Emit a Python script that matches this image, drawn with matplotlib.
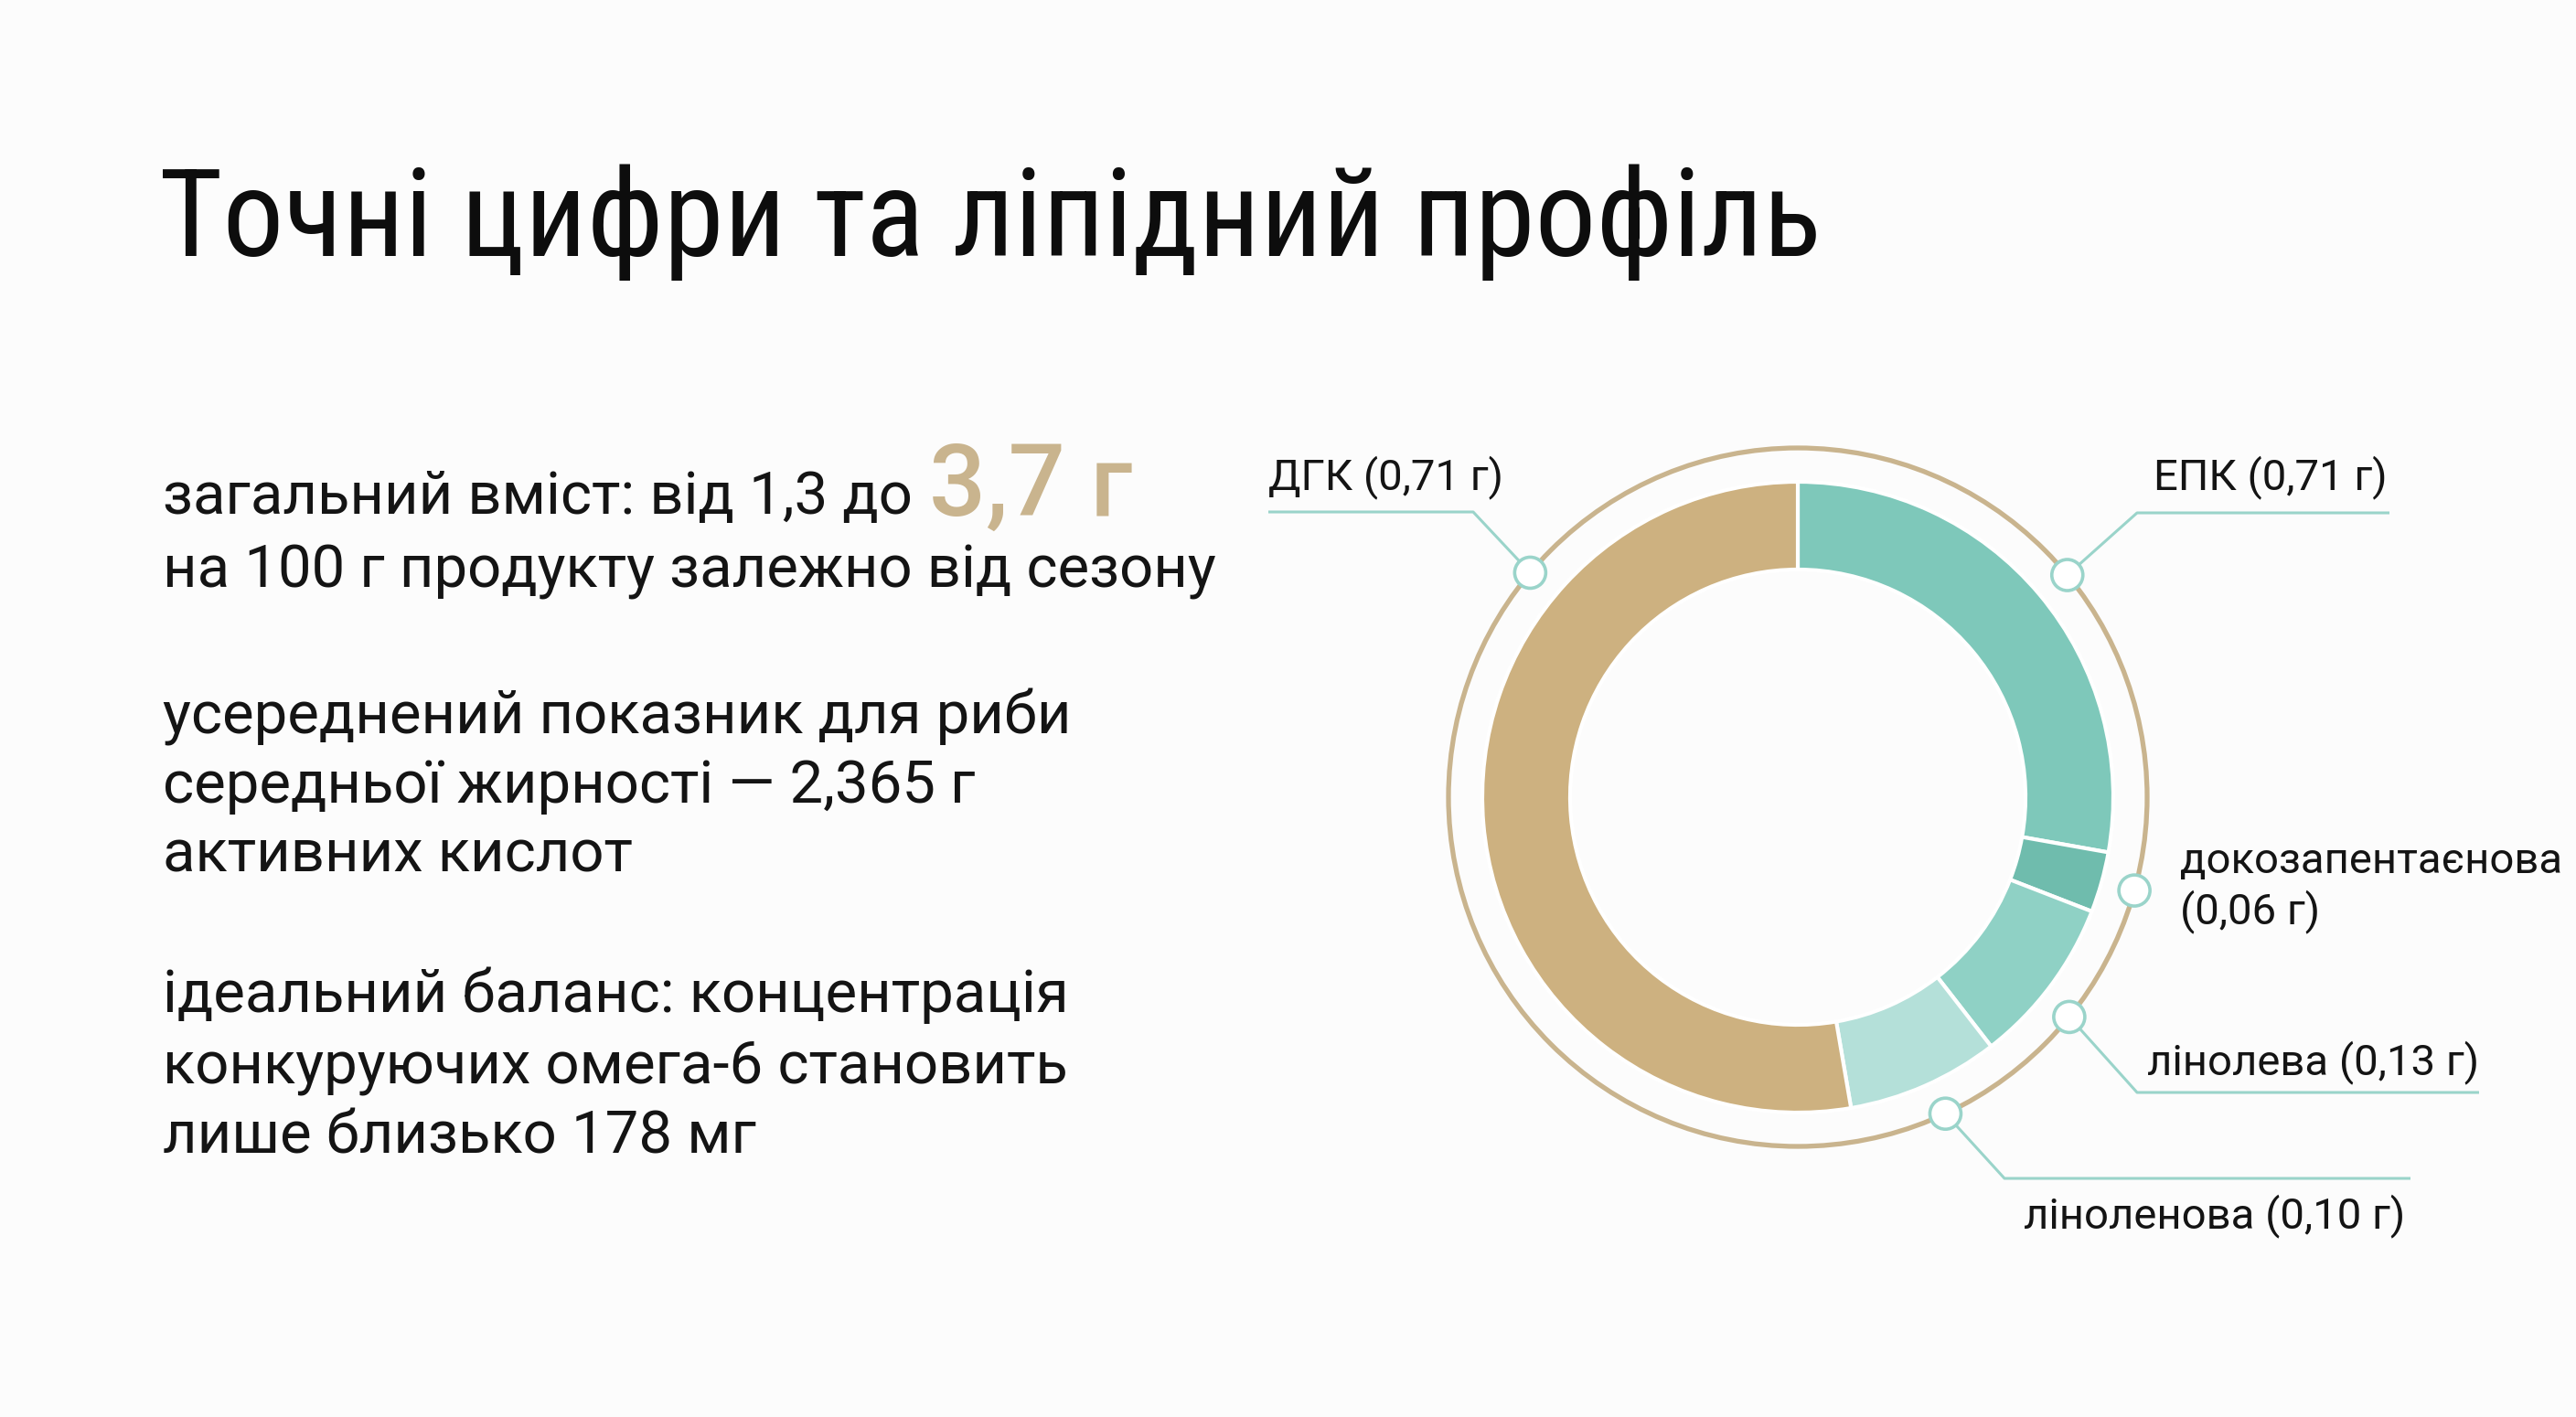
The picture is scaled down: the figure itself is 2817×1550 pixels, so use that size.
import matplotlib
matplotlib.use('Agg')
import matplotlib.pyplot as plt
from matplotlib import font_manager as fm
from matplotlib.patches import Circle
import numpy as np

plt.rcParams['font.family'] = ['Roboto', 'DejaVu Sans']

# --- data ---
names = ['ЕПК', 'докозапентаєнова', 'лінолева', 'ліноленова', 'ДГК']
grams = [0.71, 0.06, 0.13, 0.10, 0.71]
# share of the ring each segment takes in the drawing (%), clockwise from 12 o'clock
arc_share = [27.8, 3.1, 8.6, 7.8, 52.7]
seg_colors = ['#7ec8ba', '#6fbcad', '#8fd1c5', '#b4e0d9', '#cdb180']

title = 'Точні цифри та ліпідний профіль'
para1 = ['загальний вміст: від 1,3 до', 'на 100 г продукту залежно від сезону']
highlight = '3,7 г'
para2 = ['усереднений показник для риби', 'середньої жирності — 2,365 г', 'активних кислот']
para3 = ['ідеальний баланс: концентрація', 'конкуруючих омега-6 становить', 'лише близько 178 мг']

# --- layout (pixels, y measured from top) ---
W, H = 2817, 1550
bg = '#fcfcfc'
gold = '#c9b48e'
teal_line = '#9ad4ca'
ink = '#141414'

# the title face in the picture is narrower than Roboto
try:
    fm.findfont(fm.FontProperties(family='Roboto Condensed'), fallback_to_default=False)
    title_family, title_fs = ['Roboto Condensed', 'DejaVu Sans'], 96
except ValueError:
    title_family, title_fs = ['Roboto', 'DejaVu Sans'], 85

fig = plt.figure(figsize=(W / 100, H / 100), dpi=100, facecolor=bg)
ax = fig.add_axes([0, 0, 1, 1])
ax.set_facecolor(bg)


def py(y):
    return H - y


cx, cy = 1966, py(872)
r_out, r_in, r_ring = 345, 249, 382

ax.pie(arc_share, colors=seg_colors, startangle=90, counterclock=False,
       center=(cx, cy), radius=r_out,
       wedgeprops=dict(width=r_out - r_in, edgecolor='white', linewidth=3))
ax.add_patch(Circle((cx, cy), r_ring, fill=False, ec=gold, lw=3.8, zorder=3))

ax.set_xlim(0, W)
ax.set_ylim(0, H)
ax.set_aspect('equal')
ax.axis('off')

# labels: anchor angle on ring, elbow, end of horizontal line, text spot + alignment
anchor_deg = [39.5, -15.5, -39, -65, 140]
elbows = [(2337, 561), None, (2337, 1195), (2192, 1289), (1611, 560)]
line_end = [2613, None, 2711, 2636, 1387]
text_pos = [(2611, 535, 'right'), (2384, 955, 'left'), (2711, 1175, 'right'),
            (2630, 1343, 'right'), (1387, 535, 'left')]

for i, name in enumerate(names):
    a = np.radians(anchor_deg[i])
    mx, my = cx + r_ring * np.cos(a), cy + r_ring * np.sin(a)
    if elbows[i] is not None:
        ex, ey = elbows[i]
        ax.plot([mx, ex, line_end[i]], [my, py(ey), py(ey)], color=teal_line,
                lw=2.2, zorder=2, solid_capstyle='butt')
    ax.add_patch(Circle((mx, my), 17, fc='white', ec=teal_line, lw=2.6, zorder=5))
    val = f'({grams[i]:.2f} г)'.replace('.', ',')
    tx, ty, ha = text_pos[i]
    if len(name) > 12:
        ax.text(tx, py(ty), name, ha=ha, va='baseline', fontsize=34, color=ink)
        ax.text(tx, py(ty + 55), val, ha=ha, va='baseline', fontsize=34, color=ink)
    else:
        ax.text(tx, py(ty), f'{name} {val}', ha=ha, va='baseline', fontsize=34, color=ink)

# --- left text block ---
ax.text(174, py(280), title, fontsize=title_fs, color='#0d0d0d', va='baseline',
        ha='left', family=title_family)

body_fs = 47
line_y = [562, 642]
for s, y in zip(para1, line_y):
    t = ax.text(178, py(y), s, fontsize=body_fs, color=ink, va='baseline', ha='left')
    if s == para1[0]:
        first = t

fig.canvas.draw()
bb = first.get_window_extent()
x_end = ax.transData.inverted().transform((bb.x1, 0))[0]
ax.text(x_end + 18, py(line_y[0] + 2), highlight, fontsize=79, color=gold,
        va='baseline', ha='left', fontweight='medium')

for s, y in zip(para2, [802, 878, 954]):
    ax.text(178, py(y), s, fontsize=body_fs, color=ink, va='baseline', ha='left')
for s, y in zip(para3, [1107, 1185, 1262]):
    ax.text(178, py(y), s, fontsize=body_fs, color=ink, va='baseline', ha='left')

fig.savefig('out.png', dpi=100, facecolor=bg)
